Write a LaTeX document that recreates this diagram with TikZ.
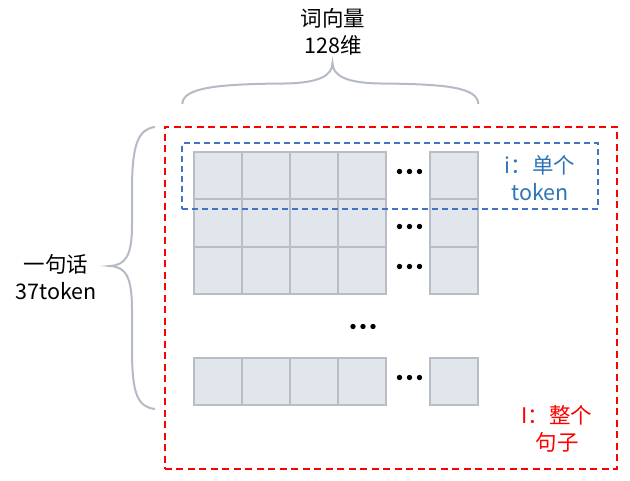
\documentclass[tikz,border=0pt]{standalone}
\usepackage{fontspec}
\setmainfont{Noto Sans CJK SC}
\definecolor{cellfill}{HTML}{E1E5EC}
\definecolor{celldraw}{HTML}{B8BDC6}
\definecolor{bracegray}{HTML}{B4BAC6}
\definecolor{tokblue}{HTML}{2E75B6}
\definecolor{boxblue}{HTML}{4472C4}
\definecolor{sentred}{HTML}{FF0000}
\tikzset{
  cell/.style={draw=celldraw, fill=cellfill, line width=2pt, minimum width=48pt, minimum height=47.5pt, inner sep=0pt, outer sep=0pt},
  bracestyle/.style={draw=bracegray, line width=2pt},
  lbl/.style={align=center, font=\fontsize{21.5}{27.5}\selectfont, inner sep=0pt},
  dotmark/.style={fill=black, draw=none},
}
\begin{document}
\begin{tikzpicture}[x=1pt, y=-1pt]
\useasboundingbox[fill=white] (0,0) rectangle (630,481);
% grid rows 1-3
\foreach \r/\yc in {1/175.5, 2/223, 3/270.5} {
  \foreach \c/\xc in {1/218, 2/266, 3/314, 4/362} {
    \node[cell] (c\r\c) at (\xc,\yc) {};
  }
  \node[cell] (c\r5) at (454,\yc) {};
}
% bottom row
\foreach \c/\xc in {1/218, 2/266, 3/314, 4/362} {
  \node[cell] (b\c) at (\xc,381.5) {};
}
\node[cell] (b5) at (454,381.5) {};
% dots
\foreach \yc in {171.5, 226.5, 266.5, 377.5} {
  \foreach \dx in {-10,0,10} { \fill[dotmark] (409.5+\dx,\yc) circle (2.7pt); }
}
\foreach \dx in {-10,0,10} { \fill[dotmark] (363+\dx,326.5) circle (2.7pt); }
% blue dashed box
\node[draw=boxblue, dash pattern=on 6pt off 4pt, line width=2pt, minimum width=416pt, minimum height=65.5pt, inner sep=0pt] (tokbox) at (390.3,176) {};
% red dashed box
\node[draw=sentred, dash pattern=on 7pt off 4.5pt, line width=2pt, minimum width=452pt, minimum height=342.5pt, inner sep=0pt] (sentbox) at (390.7,298) {};
% labels
\node[lbl, text=tokblue] (tok) at (540,178) {i：单个\\token};
\node[lbl, text=sentred] (sent) at (557,429) {I：整个\\句子};
\node[lbl] (dim) at (333,32) {词向量\\128维};
\node[lbl] (sentlen) at (56,277) {一句话\\37token};
% top brace
\coordinate (tl) at (182.3,104);
\coordinate (tt) at (332.5,63);
\coordinate (tr) at (478.3,104);
\draw[bracestyle] (tl) .. controls (183,88) and (215,84) .. (285,83.5)
  .. controls (318,83) and (332.5,76) .. (tt)
  .. controls (332.5,76) and (347,83) .. (380,83.5)
  .. controls (450,84) and (477.5,88) .. (tr);
% left brace
\coordinate (lt) at (155,127);
\coordinate (lm) at (110,266);
\coordinate (lb) at (155,409);
\draw[bracestyle] (lt) .. controls (138,129) and (132,145) .. (132,190)
  -- (132,225) .. controls (132,255) and (126,265) .. (lm)
  .. controls (126,267) and (132,277) .. (132,310)
  -- (132,350) .. controls (132,395) and (138,407) .. (lb);
\end{tikzpicture}
\end{document}
